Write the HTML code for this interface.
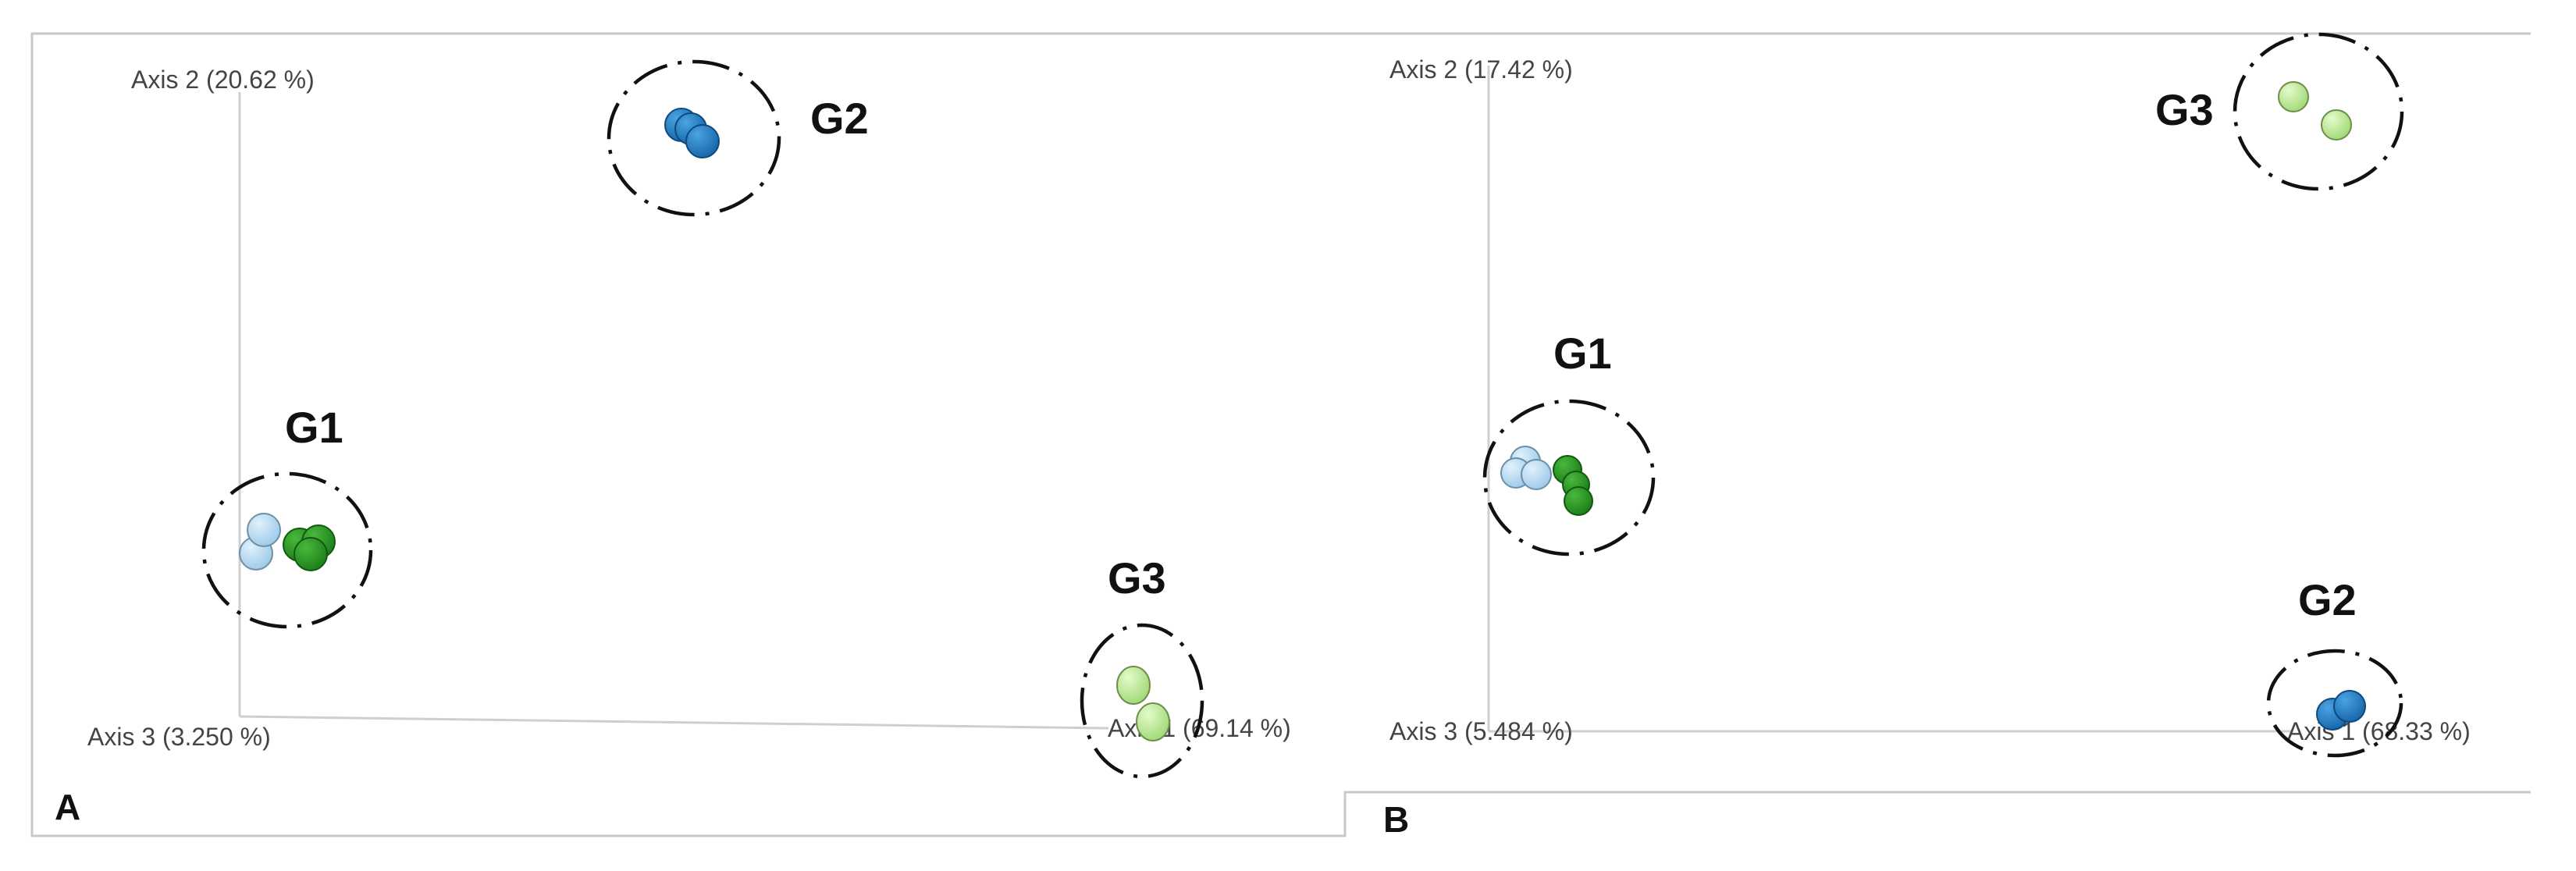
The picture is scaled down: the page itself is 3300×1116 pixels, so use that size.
<!DOCTYPE html>
<html><head><meta charset="utf-8"><style>
html,body{margin:0;padding:0;background:#fff;width:3300px;height:1116px;overflow:hidden}
svg{display:block}
.ax{font-family:"Liberation Sans",sans-serif;font-size:32px;fill:#444}
.g{font-family:"Liberation Sans",sans-serif;font-size:56px;font-weight:bold;fill:#111}
.p{font-family:"Liberation Sans",sans-serif;font-size:46px;font-weight:bold;fill:#111}
.c{fill:none;stroke:#111;stroke-width:4.5;stroke-dasharray:48 14 5 14}
</style></head><body>
<svg width="3300" height="1116" viewBox="0 0 3300 1116" xmlns="http://www.w3.org/2000/svg">
<defs>
<radialGradient id="db" cx="0.35" cy="0.3" r="0.75"><stop offset="0" stop-color="#4ba3e0"/><stop offset="1" stop-color="#1565a8"/></radialGradient>
<radialGradient id="lb" cx="0.35" cy="0.3" r="0.75"><stop offset="0" stop-color="#e0f1fc"/><stop offset="1" stop-color="#9cc9e8"/></radialGradient>
<radialGradient id="gr" cx="0.35" cy="0.3" r="0.75"><stop offset="0" stop-color="#49b83c"/><stop offset="1" stop-color="#1b7d18"/></radialGradient>
<radialGradient id="lg" cx="0.35" cy="0.3" r="0.75"><stop offset="0" stop-color="#e4fbc8"/><stop offset="1" stop-color="#9fd877"/></radialGradient>
</defs>
<g stroke="#c8c8c8" stroke-width="3" fill="none">
<polyline points="3242,43 41,43 41,1071 1723,1071 1723,1015 3242,1015"/>
</g>
<g stroke="#cfcfcf" stroke-width="3" fill="none">
<line x1="307" y1="118" x2="307" y2="918"/>
<line x1="307" y1="918" x2="1420" y2="933"/>
<line x1="1907" y1="84" x2="1907" y2="937"/>
<line x1="1907" y1="937" x2="2935" y2="937"/>
</g>
<text class="ax" x="168" y="113">Axis 2 (20.62 %)</text>
<text class="ax" x="112" y="955">Axis 3 (3.250 %)</text>
<text class="ax" x="1419" y="944">Axis 1 (69.14 %)</text>
<text class="ax" x="1780" y="100">Axis 2 (17.42 %)</text>
<text class="ax" x="1780" y="948">Axis 3 (5.484 %)</text>
<text class="ax" x="2930" y="948">Axis 1 (68.33 %)</text>

<ellipse class="c" cx="889" cy="177" rx="109" ry="98"/>
<g stroke="#0d4a80" stroke-width="2">
<circle cx="873" cy="160" r="21" fill="url(#db)"/>
<circle cx="885" cy="165" r="20" fill="url(#db)"/>
<circle cx="900" cy="181" r="21" fill="url(#db)"/>
</g>
<text class="g" x="1038" y="171">G2</text>
<ellipse class="c" cx="368" cy="705" rx="107" ry="98"/>
<g stroke="#6d8fa8" stroke-width="2">
<circle cx="328" cy="709" r="21" fill="url(#lb)"/>
<circle cx="338" cy="679" r="21" fill="url(#lb)"/>
</g>
<g stroke="#125a12" stroke-width="2">
<circle cx="384" cy="698" r="21" fill="url(#gr)"/>
<circle cx="408" cy="694" r="21" fill="url(#gr)"/>
<circle cx="398" cy="710" r="21" fill="url(#gr)"/>
</g>
<text class="g" x="365" y="567">G1</text>
<ellipse class="c" cx="1463" cy="898" rx="77" ry="97"/>
<g stroke="#6d8f4a" stroke-width="2">
<ellipse cx="1452" cy="878" rx="21" ry="24" fill="url(#lg)"/>
<ellipse cx="1477" cy="925" rx="21" ry="24" fill="url(#lg)"/>
</g>
<text class="g" x="1419" y="760">G3</text>
<text class="p" x="70" y="1050">A</text>

<ellipse class="c" cx="2010" cy="612" rx="108" ry="98"/>
<g stroke="#6d8fa8" stroke-width="2">
<circle cx="1954" cy="591" r="19" fill="url(#lb)"/>
<circle cx="1942" cy="606" r="19" fill="url(#lb)"/>
<circle cx="1968" cy="608" r="19" fill="url(#lb)"/>
</g>
<g stroke="#125a12" stroke-width="2">
<circle cx="2008" cy="602" r="18" fill="url(#gr)"/>
<circle cx="2019" cy="621" r="17" fill="url(#gr)"/>
<circle cx="2022" cy="642" r="18" fill="url(#gr)"/>
</g>
<text class="g" x="1990" y="472">G1</text>
<ellipse class="c" cx="2970" cy="143" rx="107" ry="99"/>
<g stroke="#6d8f4a" stroke-width="2">
<circle cx="2938" cy="124" r="19" fill="url(#lg)"/>
<circle cx="2993" cy="160" r="19" fill="url(#lg)"/>
</g>
<text class="g" x="2761" y="160">G3</text>
<ellipse class="c" cx="2991" cy="901" rx="85" ry="67"/>
<g stroke="#0d4a80" stroke-width="2">
<circle cx="2988" cy="915" r="20" fill="url(#db)"/>
<circle cx="3010" cy="905" r="20" fill="url(#db)"/>
</g>
<text class="g" x="2944" y="788">G2</text>
<text class="p" x="1772" y="1066">B</text>
</svg>
</body></html>
